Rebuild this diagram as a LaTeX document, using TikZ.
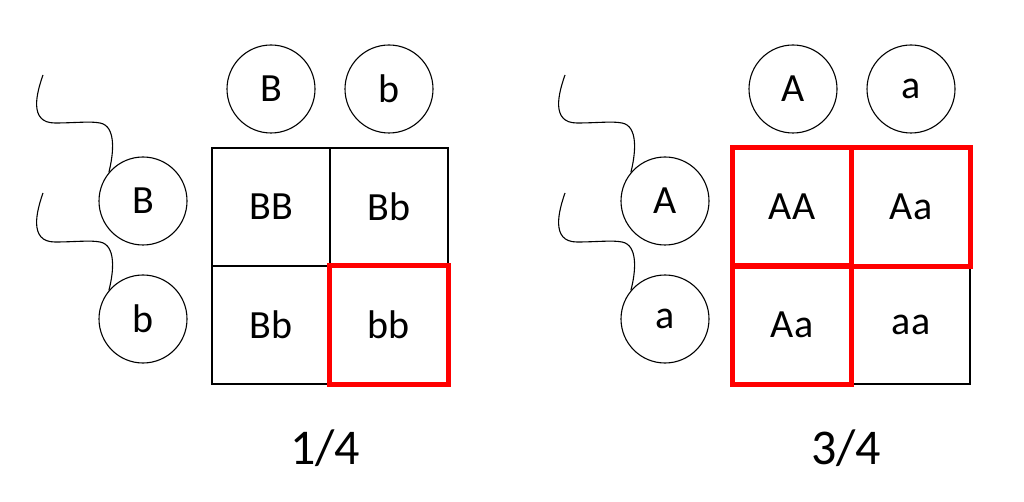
\documentclass[tikz,border=0pt]{standalone}
\usepackage{fontspec}
\setmainfont{Carlito}
\usetikzlibrary{positioning}

\tikzset{
  allele/.style={draw, circle, minimum size=88pt, inner sep=0pt, line width=1.1pt,
    font=\fontsize{40}{44}\selectfont},
  cell/.style={draw, rectangle, minimum size=118pt, inner sep=0pt, line width=1.1pt,
    font=\fontsize{40}{44}\selectfont},
  hit/.style={draw=red, line width=5pt},
  chrom/.style={line width=1.1pt},
  ratio/.style={font=\fontsize{50}{54}\selectfont}
}

\begin{document}
\begin{tikzpicture}[x=1pt,y=-1pt]
  \useasboundingbox (0,0) rectangle (1024,502);

  % left cross
  \node[allele] (colB) at (271,89) {B};
  \node[allele] (colb) at (389,89) {b};
  \node[allele] (rowB) at (143,201) {B};
  \node[allele] (rowb) at (143,319) {b};

  \node[cell] (BB)  at (271,207) {BB};
  \node[cell] (Bbu) at (389,207) {Bb};
  \node[cell] (Bbl) at (271,325) {Bb};
  \node[cell] (bb)  at (389,325) {bb};

  \draw[hit] (bb.north west) rectangle (bb.south east);

  \coordinate (tailB) at (43,75);
  \coordinate (tailb) at (43,193);
  \draw[chrom] (tailB) .. controls (37,92) and (28,123) .. (55,123)
    .. controls (75,123) and (90,121) .. (100,123)
    .. controls (116,126) and (114,152) .. (rowB.140);
  \draw[chrom] (tailb) .. controls (37,210) and (28,242) .. (55,242)
    .. controls (75,242) and (90,240) .. (100,242)
    .. controls (116,245) and (114,271) .. (rowb.140);

  \node[ratio] (fracL) at (325,448) {1/4};

  % right cross
  \node[allele] (colA) at (793,89) {A};
  \node[allele] (cola) at (911,89) {a};
  \node[allele] (rowA) at (665,201) {A};
  \node[allele] (rowa) at (665,319) {a};

  \node[cell] (AA)  at (792,207) {AA};
  \node[cell] (Aau) at (911,207) {Aa};
  \node[cell] (Aal) at (792,325) {Aa};
  \node[cell] (aa)  at (911,325) {aa};

  \draw[hit] (AA.north west) rectangle (AA.south east);
  \draw[hit] (Aau.north west) rectangle (Aau.south east);
  \draw[hit] (Aal.north west) rectangle (Aal.south east);

  \coordinate (tailA) at (565,75);
  \coordinate (taila) at (565,193);
  \draw[chrom] (tailA) .. controls (559,92) and (550,123) .. (577,123)
    .. controls (597,123) and (612,121) .. (622,123)
    .. controls (638,126) and (636,152) .. (rowA.140);
  \draw[chrom] (taila) .. controls (559,210) and (550,242) .. (577,242)
    .. controls (597,242) and (612,240) .. (622,242)
    .. controls (638,245) and (636,271) .. (rowa.140);

  \node[ratio] (fracR) at (846,448) {3/4};
\end{tikzpicture}
\end{document}
